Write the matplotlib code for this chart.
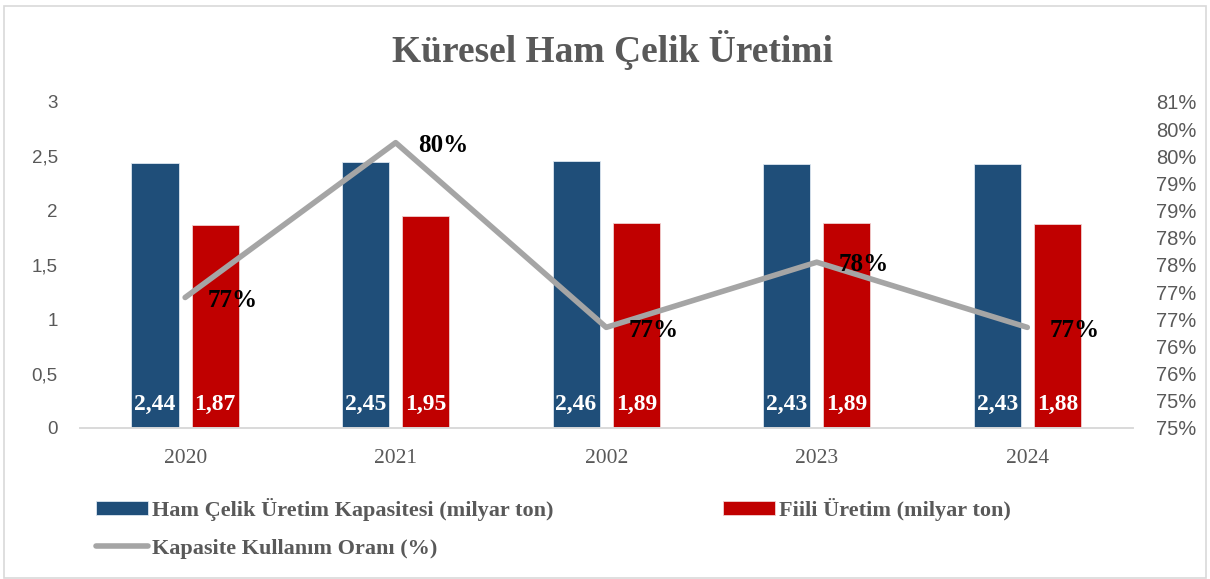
import numpy as np
import matplotlib
matplotlib.use("Agg")
import matplotlib.pyplot as plt
from matplotlib.patches import Rectangle

# data
years = ["2020", "2021", "2002", "2023", "2024"]
kapasite = [2.44, 2.45, 2.46, 2.43, 2.43]
uretim = [1.87, 1.95, 1.89, 1.89, 1.88]
oran = [77.4, 80.25, 76.85, 78.05, 76.85]
oran_labels = ["77%", "80%", "77%", "78%", "77%"]
left_ticks = [0, 0.5, 1, 1.5, 2, 2.5, 3]
left_labels = ["0", "0,5", "1", "1,5", "2", "2,5", "3"]
right_ticks = [75, 75.5, 76, 76.5, 77, 77.5, 78, 78.5, 79, 79.5, 80, 80.5, 81]
right_labels = ["75%", "75%", "76%", "76%", "77%", "77%", "78%", "78%",
                "79%", "79%", "80%", "80%", "81%"]

blue = "#1F4E79"
red = "#C00000"
gray_line = "#A5A5A5"
txt_gray = "#595959"
serif = ["Liberation Serif", "DejaVu Serif"]
sans = ["Liberation Sans", "DejaVu Sans"]

fig = plt.figure(figsize=(12.1, 5.79), dpi=100)
ax = fig.add_axes([0.066, 0.261, 0.87, 0.563])
ax2 = ax.twinx()

x = np.arange(len(years))
w = 0.224
off = 0.143
ax.bar(x - off, kapasite, w, color=blue, edgecolor="#dce6f0", linewidth=0.6, zorder=2,
       label="Ham Çelik Üretim Kapasitesi (milyar ton)")
ax.bar(x + off, uretim, w, color=red, edgecolor="#f0d0d0", linewidth=0.6, zorder=2,
       label="Fiili Üretim (milyar ton)")

for i in range(len(years)):
    ax.text(x[i] - off, 0.22, f"{kapasite[i]:.2f}".replace(".", ","), ha="center", va="center",
            color="white", fontsize=17, fontweight="bold", family=serif, zorder=3)
    ax.text(x[i] + off, 0.22, f"{uretim[i]:.2f}".replace(".", ","), ha="center", va="center",
            color="white", fontsize=17, fontweight="bold", family=serif, zorder=3)

ax.set_xlim(-0.5, len(years) - 0.5)
ax.set_ylim(0, 3)
ax.set_yticks(left_ticks)
ax.set_yticklabels(left_labels, family=sans, fontsize=13.5, color=txt_gray)
ax.set_xticks(x)
ax.set_xticklabels(years, family=serif, fontsize=15.5, color=txt_gray)
ax.tick_params(axis="y", length=0, pad=16)
ax.tick_params(axis="x", length=0, pad=15)

line, = ax2.plot(x, oran, color=gray_line, linewidth=4, solid_capstyle="round", zorder=4,
                 label="Kapasite Kullanım Oranı (%)")
for i in range(len(years)):
    ax2.annotate(oran_labels[i], (x[i], oran[i]), xytext=(16, -2), textcoords="offset points",
                 ha="left", va="center", fontsize=18, fontweight="bold", family=serif,
                 color="black", zorder=5)
ax2.set_ylim(75, 81)
ax2.set_yticks(right_ticks)
ax2.set_yticklabels(right_labels, family=sans, fontsize=14.5, color=txt_gray)
ax2.tick_params(axis="y", length=0, pad=17)

for a in (ax, ax2):
    for s in ("top", "left", "right"):
        a.spines[s].set_visible(False)
    a.spines["bottom"].set_color("#d9d9d9")
    a.spines["bottom"].set_linewidth(1.2)
ax.set_zorder(1)
ax2.set_zorder(2)

fig.text(0.506, 0.913, "Küresel Ham Çelik Üretimi", ha="center", va="center",
         fontsize=27, fontweight="bold", family=serif, color=txt_gray)

h1, l1 = ax.get_legend_handles_labels()
handles = [h1[0], line, h1[1]]
labels = [l1[0], "Kapasite Kullanım Oranı (%)", l1[1]]
leg = fig.legend(handles, labels, ncol=2, loc="upper left", bbox_to_anchor=(0.072, 0.155),
                 frameon=False, prop={"family": serif, "weight": "bold", "size": 16},
                 handlelength=2.35, handleheight=0.6, handletextpad=0.18,
                 columnspacing=7.6, labelspacing=0.8, borderaxespad=0)
for t in leg.get_texts():
    t.set_color(txt_gray)

fig.patches.append(Rectangle((0.003, 0.002), 0.994, 0.988, transform=fig.transFigure,
                             fill=False, edgecolor="#d9d9d9", linewidth=1.2))

fig.savefig("out.png", dpi=100)
